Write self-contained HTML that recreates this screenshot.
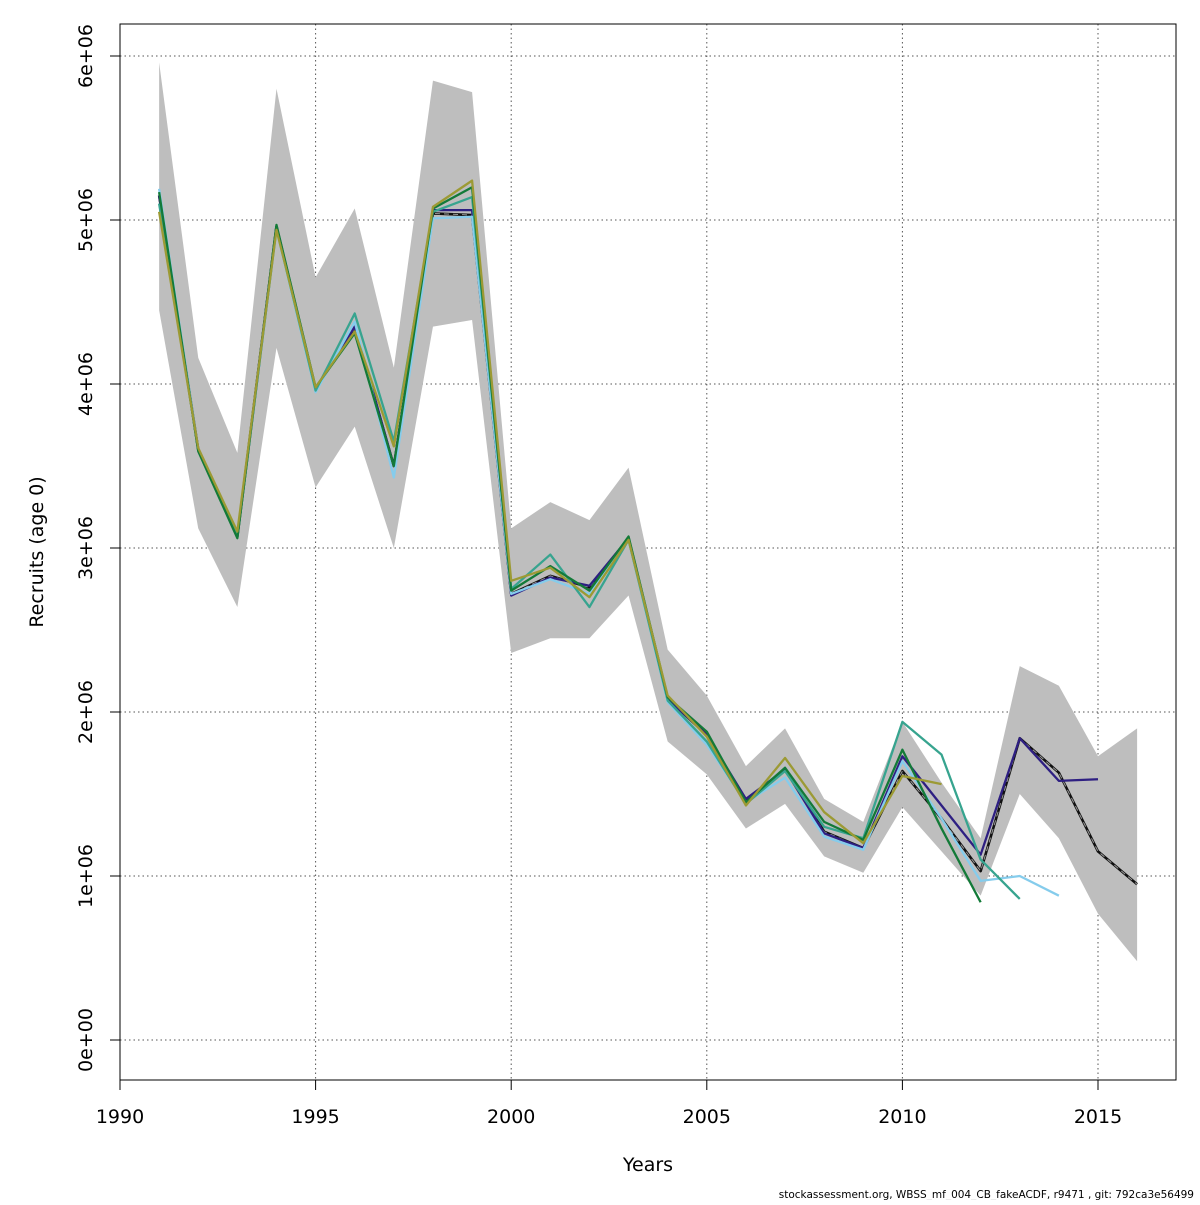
<!DOCTYPE html>
<html><head><meta charset="utf-8"><style>
html,body{margin:0;padding:0;background:#fff;}
svg text{font-family:"DejaVu Sans","Liberation Sans",sans-serif;}
</style></head><body>
<svg id="chart" width="1200" height="1200" xmlns="http://www.w3.org/2000/svg">
<g id="grid"></g>
<g id="band"></g>
<g id="lines"></g>
<g id="axes"></g>
<text x="648" y="1171" font-size="19" text-anchor="middle">Years</text>
<text transform="translate(43,552) rotate(-90)" font-size="19" text-anchor="middle">Recruits (age 0)</text>
<text x="1194" y="1198" font-size="10.5" text-anchor="end">stockassessment.org, WBSS_mf_004_CB_fakeACDF, r9471 , git: 792ca3e56499</text>
</svg>
<script>
const years=[1991,1992,1993,1994,1995,1996,1997,1998,1999,2000,2001,2002,2003,2004,2005,2006,2007,2008,2009,2010,2011,2012,2013,2014,2015,2016];
const bandUpper=[5.96,4.16,3.58,5.80,4.65,5.07,4.10,5.85,5.78,3.12,3.28,3.17,3.49,2.38,2.10,1.67,1.90,1.47,1.33,1.94,1.57,1.23,2.28,2.16,1.73,1.90];
const bandLower=[4.45,3.12,2.64,4.22,3.37,3.74,3.00,4.35,4.39,2.36,2.45,2.45,2.71,1.82,1.62,1.29,1.44,1.12,1.02,1.42,1.15,0.88,1.50,1.23,0.77,0.48];
const mainSeries=[5.15,3.60,3.07,4.96,3.97,4.34,3.50,5.04,5.03,2.72,2.83,2.76,3.06,2.08,1.86,1.46,1.65,1.27,1.17,1.64,1.35,1.03,1.84,1.63,1.15,0.95];
const purple=[5.15,3.60,3.07,4.96,3.97,4.35,3.50,5.06,5.06,2.71,2.82,2.77,3.06,2.08,1.86,1.47,1.65,1.26,1.17,1.73,1.43,1.13,1.84,1.58,1.59];
const lightBlue=[5.19,3.60,3.07,4.94,3.95,4.38,3.43,5.01,5.02,2.72,2.81,2.72,3.05,2.06,1.80,1.45,1.60,1.24,1.16,1.70,1.35,0.97,1.00,0.88];
const teal=[5.10,3.60,3.07,4.95,3.96,4.43,3.65,5.05,5.14,2.75,2.96,2.64,3.05,2.07,1.82,1.44,1.64,1.30,1.23,1.94,1.74,1.10,0.86];
const darkGreen=[5.17,3.59,3.06,4.97,3.98,4.31,3.50,5.07,5.20,2.74,2.89,2.74,3.07,2.09,1.88,1.45,1.66,1.33,1.22,1.77,1.29,0.84];
const olive=[5.05,3.61,3.10,4.94,3.98,4.32,3.62,5.08,5.24,2.80,2.88,2.70,3.05,2.10,1.85,1.43,1.72,1.39,1.20,1.61,1.56];
const xTicks=[1990,1995,2000,2005,2010,2015];
const yTicks=[0,1,2,3,4,5,6];
const yTickLabels=["0e+00","1e+06","2e+06","3e+06","4e+06","5e+06","6e+06"];

const NS="http://www.w3.org/2000/svg";
const L=120,R=1176,T=24,B=1080;
function xs(v){return 120+(v-1990)*39.12;}
function ys(v){return 1040-v*164;}
function mk(tag,parent,attrs){const e=document.createElementNS(NS,tag);for(const k in attrs)e.setAttribute(k,attrs[k]);parent.appendChild(e);return e;}
const grid=document.getElementById('grid'),band=document.getElementById('band'),lines=document.getElementById('lines'),axes=document.getElementById('axes');
xTicks.forEach(t=>{const e=mk('line',grid,{x1:xs(t),x2:xs(t),y1:T,y2:B,stroke:'#555','stroke-dasharray':'1.5,3','stroke-width':1});

});
yTicks.forEach(t=>{const e=mk('line',grid,{x1:L,x2:R,y1:ys(t),y2:ys(t),stroke:'#555','stroke-dasharray':'1.5,3','stroke-width':1});

});
let pts=years.map((y,i)=>xs(y)+','+ys(bandUpper[i]));
for(let i=years.length-1;i>=0;i--)pts.push(xs(years[i])+','+ys(bandLower[i]));
const poly=mk('polygon',band,{points:pts.join(' '),fill:'#bebebe',stroke:'none'});


function drawLine(vals,color,w,name){const p=vals.map((v,i)=>xs(years[i])+','+ys(v)).join(' ');
const e=mk('polyline',lines,{points:p,fill:'none',stroke:color,'stroke-width':w,'stroke-linejoin':'round'});

return e;}
drawLine(mainSeries,'#111',2.6,'series-main');
const d=drawLine(mainSeries,'#999',1,'series-main-dash');d.setAttribute('stroke-dasharray','5,4');
drawLine(purple,'#2e1f82',2.3,'series-purple');
drawLine(lightBlue,'#85ccec',2.3,'series-light-blue');
drawLine(teal,'#37a48f',2.3,'series-teal');
drawLine(darkGreen,'#137a38',2.3,'series-dark-green');
drawLine(olive,'#9c9a34',2.3,'series-olive');
const box=mk('rect',axes,{x:L,y:T,width:R-L,height:B-T,fill:'none',stroke:'#000','stroke-width':1});


xTicks.forEach(t=>{const e=mk('line',axes,{x1:xs(t),x2:xs(t),y1:B,y2:B+10,stroke:'#000'});


const tx=mk('text',axes,{x:xs(t),y:B+43,'font-size':19,'text-anchor':'middle'});tx.textContent=t;

});
yTicks.forEach((t,i)=>{const e=mk('line',axes,{x1:L-10,x2:L,y1:ys(t),y2:ys(t),stroke:'#000'});


const tx=mk('text',axes,{transform:'translate(92,'+ys(t)+') rotate(-90)','font-size':19,'text-anchor':'middle'});tx.textContent=yTickLabels[i];

});
</script>
</body></html>
